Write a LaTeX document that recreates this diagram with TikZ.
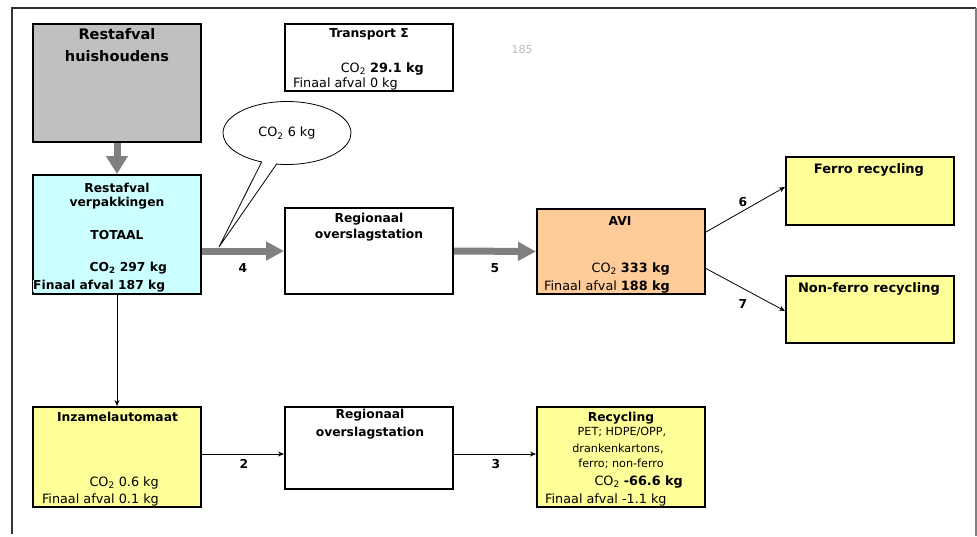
\documentclass[tikz,border=0pt]{standalone}
\usepackage{fontspec}
\setmainfont{DejaVu Sans}
\usetikzlibrary{arrows.meta,shapes.callouts,calc}
\definecolor{boxgray}{HTML}{C0C0C0}
\definecolor{boxcyan}{HTML}{CCFFFF}
\definecolor{boxorange}{HTML}{FFCC99}
\definecolor{boxyellow}{HTML}{FFFF99}
\definecolor{flowgray}{HTML}{808080}
\definecolor{framegray}{HTML}{333333}
\definecolor{pagenum}{HTML}{BBBBBB}
\begin{document}
\begin{tikzpicture}[x=1pt,y=-1pt,
  box/.style={draw=black,line width=2pt,minimum width=168pt,inner sep=0pt},
  txt/.style={inner sep=0pt,font=\fontsize{12.8}{15}\selectfont},
  txtb/.style={inner sep=0pt,font=\fontsize{12.3}{14}\selectfont\bfseries},
  txts/.style={inner sep=0pt,font=\fontsize{11.2}{13}\selectfont},
  title/.style={inner sep=0pt,font=\fontsize{14.5}{17}\selectfont\bfseries},
  flowarrow/.style={draw=flowgray,line width=7pt,-{Triangle[length=18pt,width=18pt]}},
  thinarrow/.style={draw=black,line width=0.8pt,-{Stealth[length=6pt,width=5pt]}},
  num/.style={inner sep=0pt,font=\fontsize{12.3}{14}\selectfont\bfseries}]
\useasboundingbox (0,0) rectangle (977,536);
% frame
\draw[framegray,line width=2pt] (12,534) -- (12,8) -- (976,8);
\draw[gray,line width=1.5pt] (976,8) -- (976,536);

% boxes
\node[box,fill=boxgray,minimum height=118pt] (rh) at (117,83) {};
\node[box,fill=boxcyan,minimum height=119pt] (rv) at (117,234.5) {};
\node[box,fill=white,minimum height=67pt] (tr) at (369,57.5) {};
\node[box,fill=white,minimum height=86pt] (r1) at (369,251) {};
\node[box,fill=boxorange,minimum height=85pt] (avi) at (621,251.5) {};
\node[box,fill=boxyellow,minimum height=68pt] (fe) at (870,191) {};
\node[box,fill=boxyellow,minimum height=67pt] (nf) at (870,309.5) {};
\node[box,fill=boxyellow,minimum height=100pt] (inz) at (117,457) {};
\node[box,fill=white,minimum height=82pt] (r2) at (369,448) {};
\node[box,fill=boxyellow,minimum height=100pt] (rec) at (621,457) {};

% texts
\node[title,anchor=base] (rh1) at (117,39) {Restafval};
\node[title,anchor=base] (rh2) at (117,61) {huishoudens};

\node[txtb,anchor=base] (rv1) at (117,192) {Restafval};
\node[txtb,anchor=base] (rv2) at (117,206) {verpakkingen};
\node[txtb,anchor=base] (rv3) at (117,239) {TOTAAL};
\node[txtb,anchor=base east] (rv4) at (167,271) {CO\textsubscript{2} 297 kg};
\node[txtb,anchor=base west,fill=boxcyan] (rv5) at (33,289) {Finaal afval 187 kg};

\node[txtb,anchor=base] (tr1) at (369,37) {Transport Σ};
\node[txt,anchor=base east] (tr2) at (424,72) {CO\textsubscript{2} \textbf{29.1 kg}};
\node[txt,anchor=base west] (tr3) at (293,87) {Finaal afval 0 kg};

\node[inner sep=0pt,anchor=base,text=pagenum,font=\fontsize{11}{13}\selectfont] (pg) at (522,53) {185};

\node[txtb,anchor=base] (r1a) at (369,222) {Regionaal};
\node[txtb,anchor=base] (r1b) at (369,238) {overslagstation};

\node[txtb,anchor=base] (avi1) at (620,225) {AVI};
\node[txt,anchor=base east] (avi2) at (670,272) {CO\textsubscript{2} \textbf{333 kg}};
\node[txt,anchor=base east] (avi3) at (670,290) {Finaal afval \textbf{188 kg}};

\node[txtb,anchor=base,font=\fontsize{13}{15}\selectfont\bfseries] (fe1) at (869,173) {Ferro recycling};
\node[txtb,anchor=base,font=\fontsize{13}{15}\selectfont\bfseries] (nf1) at (869,292) {Non-ferro recycling};

\node[txtb,anchor=base] (inz1) at (117.5,421) {Inzamelautomaat};
\node[txt,anchor=base east] (inz2) at (159,486) {CO\textsubscript{2} 0.6 kg};
\node[txt,anchor=base east] (inz3) at (159,503) {Finaal afval 0.1 kg};

\node[txtb,anchor=base] (r2a) at (370,418) {Regionaal};
\node[txtb,anchor=base] (r2b) at (370,436) {overslagstation};

\node[txtb,anchor=base] (rec1) at (621,421) {Recycling};
\node[txts,anchor=base] (rec2) at (622,435) {PET; HDPE/OPP,};
\node[txts,anchor=base] (rec3) at (618,452) {drankenkartons,};
\node[txts,anchor=base] (rec4) at (621,467) {ferro; non-ferro};
\node[txt,anchor=base east] (rec5) at (683,485) {CO\textsubscript{2} \textbf{-66.6 kg}};
\node[txt,anchor=base west] (rec6) at (545,503) {Finaal afval -1.1 kg};

% callout
\coordinate (tip) at (219,247);
\node[ellipse callout,draw=black,line width=0.8pt,fill=white,minimum width=128pt,minimum height=63pt,
      callout absolute pointer={(tip)},callout pointer arc=14,txt] (co) at (287,133) {CO\textsubscript{2} 6 kg};

% connectors
\draw[draw=flowgray,line width=7pt,-{Triangle[length=18pt,width=21pt]}] (rh.south) -- (rv.north);
\draw[flowarrow] (rv.east |- r1.west) -- (r1.west);
\draw[flowarrow] (r1.east) -- (avi.west);
\draw[thinarrow] ($(avi.east)+(0,-19.5)$) -- ($(fe.west)+(0,-4)$);
\draw[thinarrow] ($(avi.east)+(0,17)$) -- ($(nf.west)+(0,1.5)$);
\draw[thinarrow] (rv.south) -- (inz.north);
\draw[thinarrow] ($(inz.east)+(0,-3)$) -- ($(r2.west)+(0,6)$);
\draw[thinarrow] ($(r2.east)+(0,6)$) -- ($(rec.west)+(0,-3)$);

% connector labels
\node[num] (n4) at (243,268) {4};
\node[num] (n5) at (495,268) {5};
\node[num] (n6) at (743,202) {6};
\node[num] (n7) at (743,304) {7};
\node[num] (n2) at (244,464) {2};
\node[num] (n3) at (496,464) {3};
\end{tikzpicture}
\end{document}
